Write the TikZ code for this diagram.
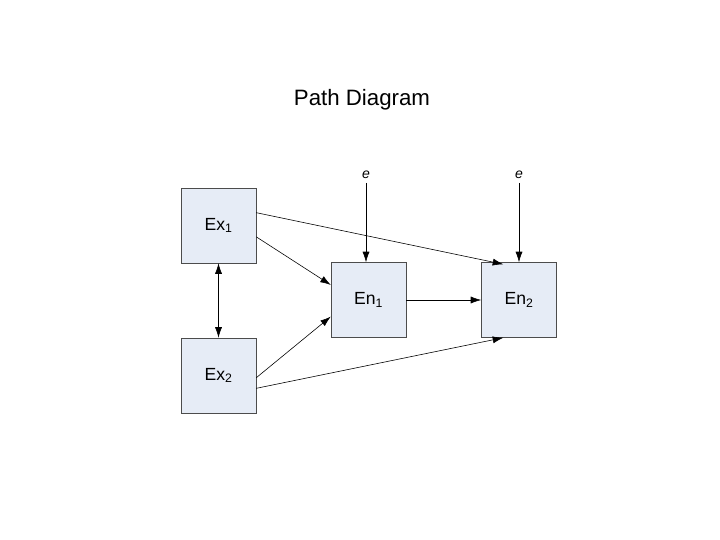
\documentclass[tikz,border=0pt]{standalone}
\usepackage{fontspec}
\setmainfont{Liberation Sans}
\usetikzlibrary{positioning,arrows.meta,calc}
\begin{document}
\begin{tikzpicture}[x=0.03cm,y=-0.03cm]
\tikzstyle{var}=[draw=black!70,fill={rgb,255:red,230;green,236;blue,246},minimum size=2.25cm,inner sep=0pt,font=\fontsize{15}{18}\selectfont]
\tikzstyle{path}=[-{Latex[length=9pt,width=6pt]},black,line width=0.5pt]
\useasboundingbox (0,0) rectangle (720,540);
\node[font=\fontsize{19}{22}\selectfont] (title) at (362,100) {Path Diagram};
\node[var] (ex1) at (218.5,225.5) {Ex\textsubscript{1}};
\node[var] (ex2) at (218.5,375.5) {Ex\textsubscript{2}};
\node[var] (en1) at (368.5,300) {En\textsubscript{1}};
\node[var] (en2) at (519,300) {En\textsubscript{2}};
\node[font=\large\itshape] (e1) at (366,175) {e};
\node[font=\large\itshape] (e2) at (519,175) {e};
% paths
\draw[path] (e1) -- (e1 |- en1.north);
\draw[path] (e2) -- (en2);
\draw[path] ($(ex1.north east)!0.33!(ex1.south east)$) -- ($(en2.north west)+(22,2)$);
\draw[path] ($(ex1.north east)!0.65!(ex1.south east)$) -- ($(en1.north west)!0.3!(en1.south west)$);
\draw[path] ($(ex2.north east)!0.53!(ex2.south east)$) -- ($(en1.north west)!0.72!(en1.south west)$);
\draw[path] ($(ex2.north east)!0.67!(ex2.south east)$) -- ($(en2.south west)+(22,0)$);
\draw[path] (en1) -- (en2);
\draw[path,{Latex[length=9pt,width=6pt]}-{Latex[length=9pt,width=6pt]}] (ex1) -- (ex2);
\end{tikzpicture}
\end{document}
